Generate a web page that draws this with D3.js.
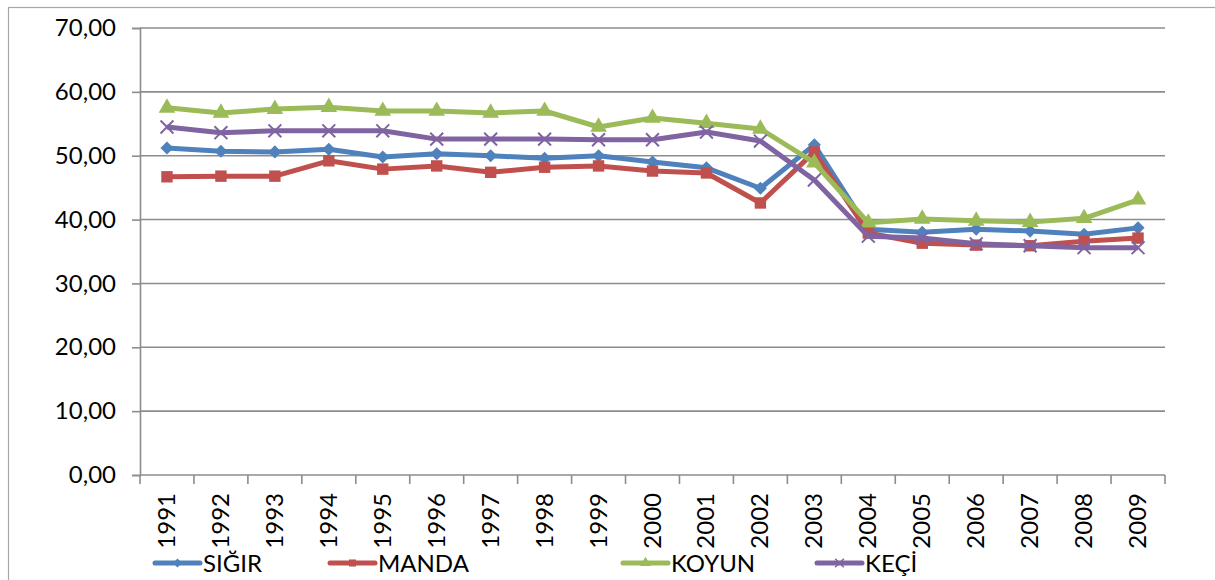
<!DOCTYPE html>
<html>
<head>
<meta charset="utf-8">
<script src="https://cdn.jsdelivr.net/npm/d3@7"></script>
<style>
    body { margin: 0; background: #fff; }
    svg text { font-family: Lato, "Open Sans", sans-serif; fill: #000; }
</style>
</head>
<body>
<div id="chart"></div>
<script>
// data
const years = ['1991', '1992', '1993', '1994', '1995', '1996', '1997', '1998', '1999', '2000',
    '2001', '2002', '2003', '2004', '2005', '2006', '2007', '2008', '2009'];
const sigir = [51.2, 50.7, 50.6, 51.0, 49.8, 50.3, 50.0, 49.6, 50.0, 49.0,
    48.1, 44.9, 51.7, 38.5, 38.0, 38.5, 38.2, 37.7, 38.7];
const manda = [46.7, 46.8, 46.8, 49.2, 47.9, 48.4, 47.4, 48.2, 48.4, 47.6,
    47.3, 42.6, 50.6, 37.9, 36.3, 36.0, 35.9, 36.6, 37.1];
const koyun = [57.5, 56.7, 57.3, 57.6, 57.0, 57.0, 56.7, 57.0, 54.5, 55.9,
    55.1, 54.2, 48.9, 39.5, 40.1, 39.8, 39.6, 40.2, 43.1];
const keci = [54.5, 53.6, 53.9, 53.9, 53.9, 52.6, 52.6, 52.6, 52.5, 52.5,
    53.7, 52.3, 46.2, 37.4, 37.1, 36.2, 35.9, 35.6, 35.6];
const seriesNames = ['SIĞIR', 'MANDA', 'KOYUN', 'KEÇİ'];
const yTicks = [0, 10, 20, 30, 40, 50, 60, 70];

const series = [
    { name: seriesNames[0], values: sigir, color: '#4F81BD', marker: 'diamond' },
    { name: seriesNames[1], values: manda, color: '#C0504D', marker: 'square' },
    { name: seriesNames[2], values: koyun, color: '#9BBB59', marker: 'triangle' },
    { name: seriesNames[3], values: keci, color: '#8064A2', marker: 'x' }
];

const width = 1215, height = 580;
const margin = { top: 28, right: 50, bottom: 105, left: 140 };
const innerW = width - margin.left - margin.right;
const innerH = height - margin.top - margin.bottom;
const fontSize = '24px';

const svg = d3.select('#chart')
    .append('svg')
    .attr('width', width)
    .attr('height', height);

// outer chart border
svg.append('rect')
    .attr('x', 8.5).attr('y', 7.5)
    .attr('width', width + 10).attr('height', height + 10)
    .attr('fill', 'none')
    .attr('stroke', '#a6a6a6')
    .attr('stroke-width', 1.2);

const chart = svg.append('g')
    .attr('transform', `translate(${margin.left},${margin.top})`);

const x = d3.scaleBand().domain(years).range([0, innerW]);
const y = d3.scaleLinear().domain([0, 70]).range([innerH, 0]);

// gridlines
chart.append('g')
    .selectAll('line')
    .data(yTicks.filter(d => d > 0))
    .join('line')
    .attr('x1', 0).attr('x2', innerW)
    .attr('y1', d => y(d)).attr('y2', d => y(d))
    .attr('stroke', '#8c8c8c')
    .attr('stroke-width', 1.6);

// y axis
const yAxis = d3.axisLeft(y)
    .tickValues(yTicks)
    .tickSize(8)
    .tickPadding(16)
    .tickFormat(d => d3.format('.2f')(d).replace('.', ','));

chart.append('g')
    .call(yAxis)
    .call(g => g.selectAll('line, .domain').attr('stroke', '#8c8c8c').attr('stroke-width', 1.6))
    .call(g => g.selectAll('text').style('font-size', fontSize));

// x axis, ticks at band edges
const xAxisG = chart.append('g')
    .attr('transform', `translate(0,${innerH})`);

xAxisG.append('line')
    .attr('x1', 0).attr('x2', innerW)
    .attr('stroke', '#8c8c8c').attr('stroke-width', 1.6);

xAxisG.selectAll('.xtick')
    .data(years.concat(['end']))
    .join('line')
    .attr('class', 'xtick')
    .attr('x1', (d, i) => i * x.step()).attr('x2', (d, i) => i * x.step())
    .attr('y1', 0).attr('y2', 9)
    .attr('stroke', '#8c8c8c').attr('stroke-width', 1.6);

xAxisG.selectAll('.xlabel')
    .data(years)
    .join('text')
    .attr('class', 'xlabel')
    .attr('transform', d => `translate(${x(d) + x.bandwidth() / 2 + 8},18) rotate(-90)`)
    .style('text-anchor', 'end')
    .style('font-size', fontSize)
    .text(d => d);

// lines
const line = d3.line()
    .x((d, i) => x(years[i]) + x.bandwidth() / 2)
    .y(d => y(d));

const markerPath = {
    diamond: d3.symbol().type(d3.symbolDiamond2).size(110)(),
    square: d3.symbol().type(d3.symbolSquare).size(130)(),
    triangle: d3.symbol().type(d3.symbolTriangle).size(120)(),
    x: d3.symbol().type(d3.symbolTimes).size(110)()
};

series.forEach(s => {
    chart.append('path')
        .datum(s.values)
        .attr('fill', 'none')
        .attr('stroke', s.color)
        .attr('stroke-width', 5)
        .attr('stroke-linejoin', 'round')
        .attr('d', line);

    chart.append('g')
        .selectAll('path')
        .data(s.values)
        .join('path')
        .attr('transform', (d, i) => `translate(${x(years[i]) + x.bandwidth() / 2},${y(d)})`)
        .attr('d', markerPath[s.marker])
        .attr('fill', s.marker === 'x' ? 'none' : s.color)
        .attr('stroke', s.marker === 'x' ? s.color : 'none')
        .attr('stroke-width', 2);
});

// legend
const legendX = [155, 330, 623, 817];
const legend = svg.append('g')
    .selectAll('g')
    .data(series)
    .join('g')
    .attr('transform', (d, i) => `translate(${legendX[i]},563)`);

legend.append('line')
    .attr('x1', 0).attr('x2', 45)
    .attr('stroke', d => d.color)
    .attr('stroke-width', 5)
    .attr('stroke-linecap', 'round');

legend.append('path')
    .attr('transform', 'translate(22.5,0)')
    .attr('d', d => d3.symbol().type(
        d.marker === 'diamond' ? d3.symbolDiamond2 :
        d.marker === 'square' ? d3.symbolSquare :
        d.marker === 'triangle' ? d3.symbolTriangle : d3.symbolTimes).size(50)())
    .attr('fill', d => d.marker === 'x' ? 'none' : d.color)
    .attr('stroke', d => d.marker === 'x' ? d.color : 'none')
    .attr('stroke-width', 1.5);

legend.append('text')
    .attr('x', 48)
    .attr('dy', '0.36em')
    .style('font-size', fontSize)
    .text(d => d.name);
</script>
</body>
</html>
